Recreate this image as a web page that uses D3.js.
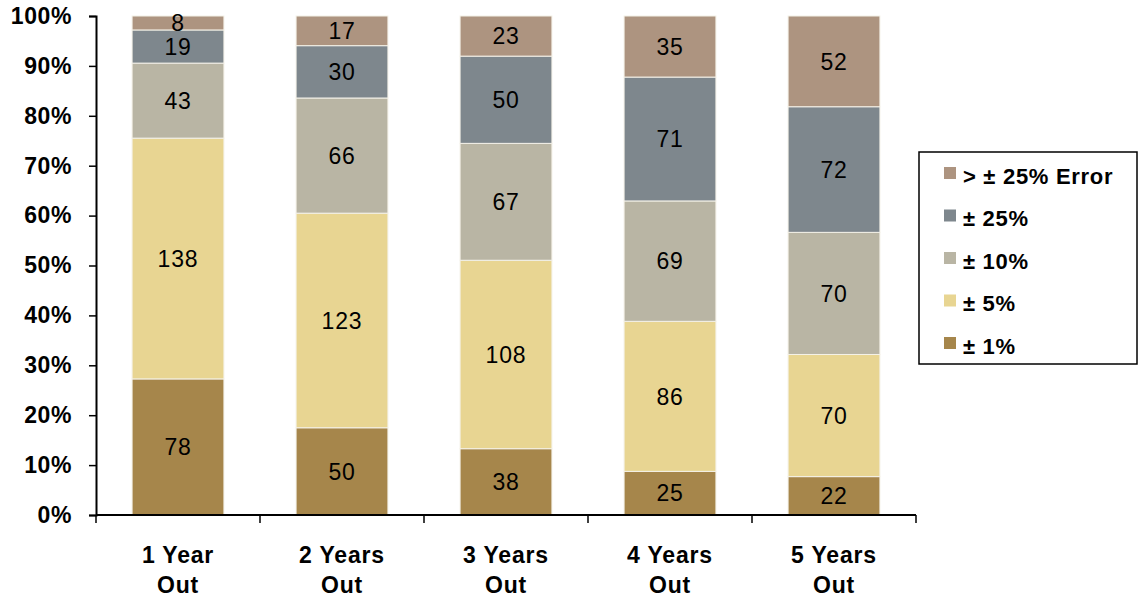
<!DOCTYPE html>
<html>
<head>
<meta charset="utf-8">
<script src="https://cdn.jsdelivr.net/npm/d3@7/dist/d3.min.js"></script>
<style>
  html, body { margin: 0; padding: 0; background: #fff; }
  svg { display: block; font-family: "Liberation Sans", Arial, sans-serif; }
</style>
</head>
<body>
<svg id="chart" width="1138" height="597"></svg>
<script>
// Forecast accuracy counts by horizon (each column totals 286)
const categories = [["1 Year", "Out"], ["2 Years", "Out"], ["3 Years", "Out"], ["4 Years", "Out"], ["5 Years", "Out"]];
const seriesNames = ["± 1%", "± 5%", "± 10%", "± 25%", "> ± 25% Error"];
const within1 = [78, 50, 38, 25, 22];
const within5 = [138, 123, 108, 86, 70];
const within10 = [43, 66, 67, 69, 70];
const within25 = [19, 30, 50, 71, 72];
const beyond25 = [8, 17, 23, 35, 52];
const yTicks = [0, 0.1, 0.2, 0.3, 0.4, 0.5, 0.6, 0.7, 0.8, 0.9, 1.0];
const colors = ["#A6864B", "#E8D592", "#B9B5A4", "#7E878D", "#AD9480"];

const seriesValues = [within1, within5, within10, within25, beyond25];

const svg = d3.select("#chart");
const margin = { left: 96, right: 222, top: 16, bottom: 82 };
const W = 1138, H = 597;
const plotW = W - margin.left - margin.right;
const plotH = H - margin.top - margin.bottom;

const g = svg.append("g").attr("transform", `translate(${margin.left},${margin.top})`);

const keys = categories.map((c, i) => i);
const x = d3.scaleBand().domain(keys).range([0, plotW]).paddingInner(0.44).paddingOuter(0.22);
const xOuter = d3.scaleBand().domain(keys).range([0, plotW]);
const y = d3.scaleLinear().domain([0, 1]).range([plotH, 0]);

// rows for stacking, normalised to share of column total
const rows = keys.map(i => {
  const r = { idx: i };
  seriesNames.forEach((s, k) => r[s] = seriesValues[k][i]);
  return r;
});
const stack = d3.stack().keys(seriesNames).offset(d3.stackOffsetExpand);
const layers = stack(rows);

const layerG = g.selectAll("g.layer").data(layers).join("g")
  .attr("class", "layer")
  .attr("fill", (d, i) => colors[i]);

layerG.selectAll("rect").data(d => d).join("rect")
  .attr("x", d => x(d.data.idx))
  .attr("width", x.bandwidth())
  .attr("y", d => y(d[1]))
  .attr("height", d => y(d[0]) - y(d[1]))
  .attr("stroke", "#f4f1e8")
  .attr("stroke-width", 1);

// value labels
layerG.each(function (layer, li) {
  d3.select(this).selectAll("text").data(layer).join("text")
    .attr("x", d => x(d.data.idx) + x.bandwidth() / 2)
    .attr("y", d => (y(d[0]) + y(d[1])) / 2)
    .attr("dy", "0.36em")
    .attr("text-anchor", "middle")
    .attr("font-size", 23)
    .attr("letter-spacing", 0.8)
    .attr("fill", "#000")
    .text(d => d.data[layer.key]);
});

// y axis
const yAxis = d3.axisLeft(y).tickValues(yTicks).tickFormat(d3.format(".0%")).tickSizeOuter(0).tickSize(7).tickPadding(17);
const yg = g.append("g").call(yAxis);
yg.select(".domain").attr("stroke", "#000").attr("stroke-width", 2);
yg.selectAll(".tick line").attr("stroke", "#000").attr("stroke-width", 1.5);
yg.selectAll(".tick text").attr("font-size", 23).attr("font-weight", "bold").attr("fill", "#000")
  .attr("letter-spacing", 0.6)
  .attr("font-family", "Liberation Sans, Arial, sans-serif");

// x axis baseline with ticks at category boundaries
g.append("line").attr("x1", 0).attr("x2", plotW).attr("y1", plotH).attr("y2", plotH)
  .attr("stroke", "#000").attr("stroke-width", 2);
const bounds = keys.map(i => xOuter(i)).concat([plotW]);
g.selectAll("line.xtick").data(bounds).join("line")
  .attr("class", "xtick")
  .attr("x1", d => d).attr("x2", d => d)
  .attr("y1", plotH).attr("y2", plotH + 8)
  .attr("stroke", "#000").attr("stroke-width", 1.5);

// category labels
const xl = g.selectAll("text.xlab").data(keys).join("text")
  .attr("class", "xlab")
  .attr("x", i => x(i) + x.bandwidth() / 2)
  .attr("y", plotH + 48)
  .attr("text-anchor", "middle")
  .attr("font-size", 23)
  .attr("letter-spacing", 0.8)
  .attr("font-weight", "bold")
  .attr("fill", "#000");
xl.selectAll("tspan").data(i => categories[i]).join("tspan")
  .attr("x", function () { return d3.select(this.parentNode).attr("x"); })
  .attr("dy", (d, j) => j === 0 ? 0 : 30)
  .text(d => d);

// legend (top entry first)
const legend = svg.append("g").attr("transform", "translate(919,152)");
legend.append("rect").attr("x", 0).attr("y", 0).attr("width", 218).attr("height", 212)
  .attr("fill", "#fff").attr("stroke", "#000").attr("stroke-width", 1.5);
const legendOrder = seriesNames.map((s, i) => i).reverse();
const items = legend.selectAll("g.item").data(legendOrder).join("g")
  .attr("class", "item")
  .attr("transform", (d, j) => `translate(25,${24 + j * 42.5})`);
items.append("rect").attr("x", 0).attr("y", -9).attr("width", 12).attr("height", 12)
  .attr("fill", d => colors[d]);
items.append("text").attr("x", 19).attr("y", 0).attr("dy", "0.36em")
  .attr("font-size", 22).attr("font-weight", "bold").attr("fill", "#000")
  .attr("letter-spacing", 0.7)
  .text(d => seriesNames[d]);
</script>
</body>
</html>
